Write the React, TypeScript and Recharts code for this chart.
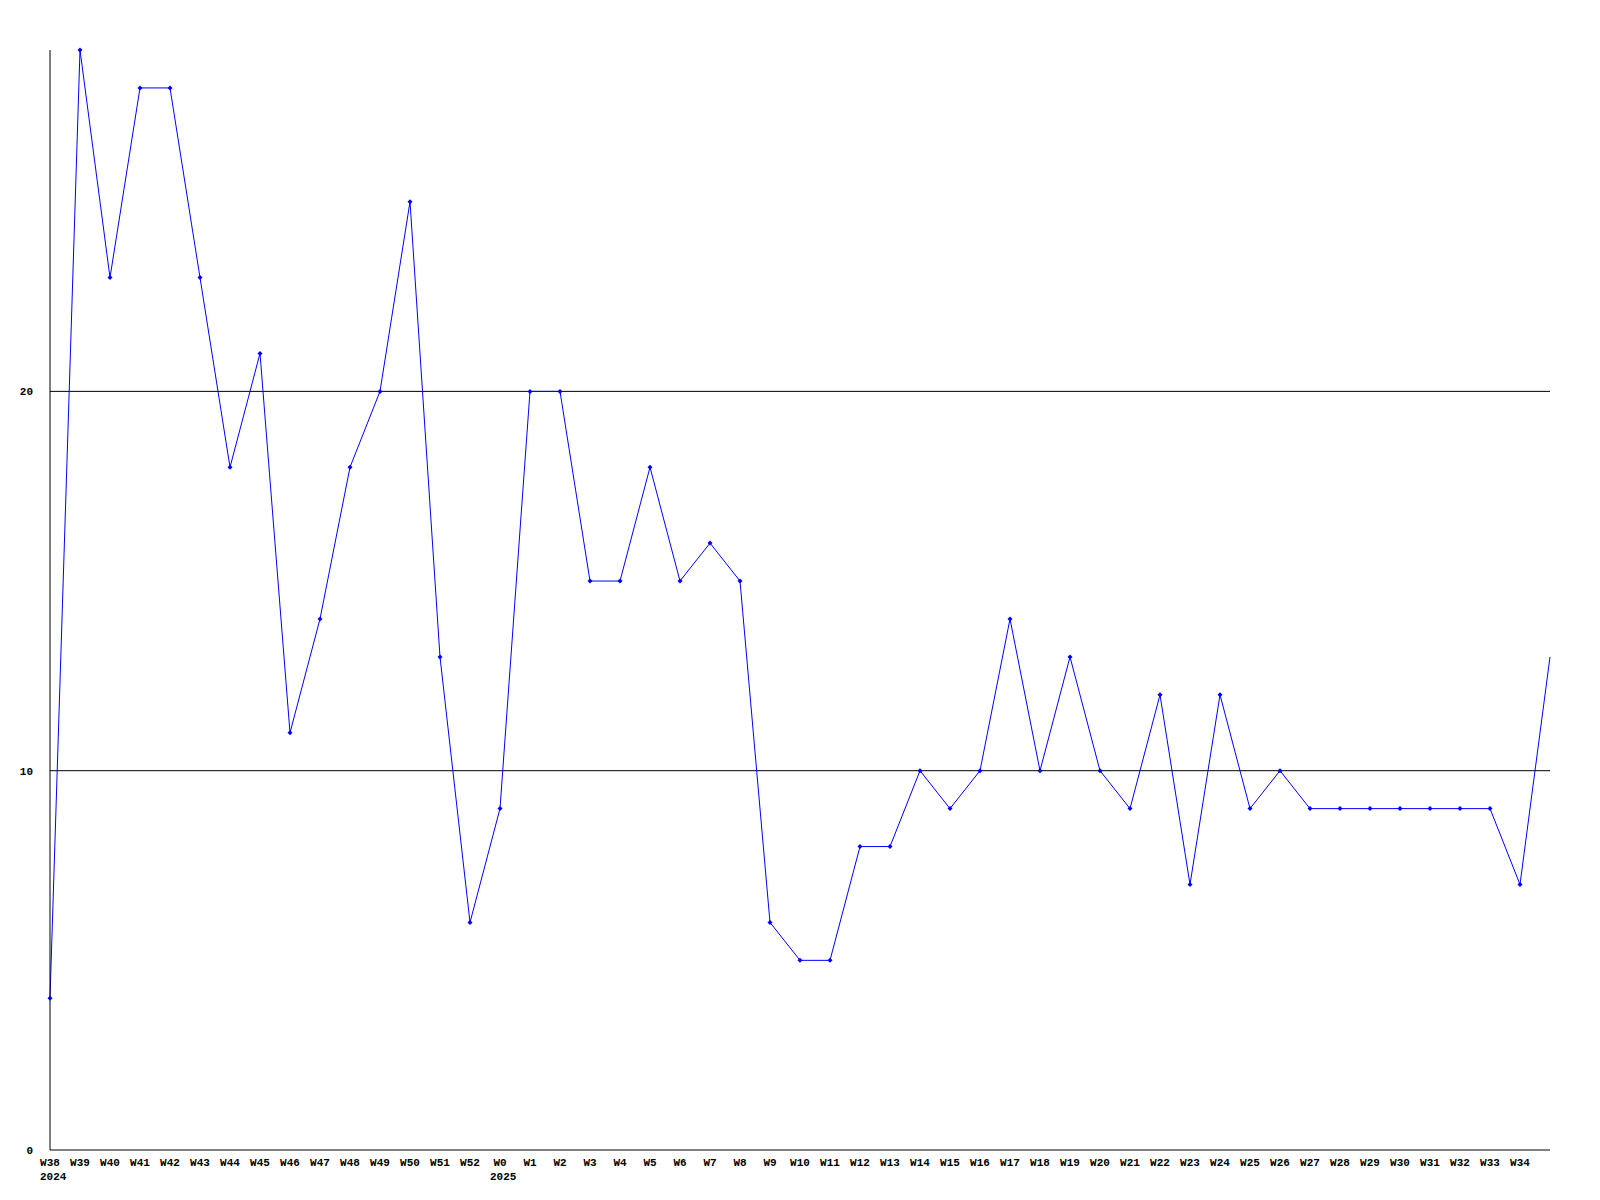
import { LineChart, Line, XAxis, YAxis, ReferenceLine } from "recharts";

// weekly counts, W38 2024 .. current (partial) week
const weeks = [
  "W38", "W39", "W40", "W41", "W42", "W43", "W44", "W45", "W46", "W47",
  "W48", "W49", "W50", "W51", "W52", "W0", "W1", "W2", "W3", "W4",
  "W5", "W6", "W7", "W8", "W9", "W10", "W11", "W12", "W13", "W14",
  "W15", "W16", "W17", "W18", "W19", "W20", "W21", "W22", "W23", "W24",
  "W25", "W26", "W27", "W28", "W29", "W30", "W31", "W32", "W33", "W34",
  "",
];
const years: Record<string, string> = { W38: "2024", W0: "2025" };
const counts = [
  4, 29, 23, 28, 28, 23, 18, 21, 11, 14,
  18, 20, 25, 13, 6, 9, 20, 20, 15, 15,
  18, 15, 16, 15, 6, 5, 5, 8, 8, 10,
  9, 10, 14, 10, 13, 10, 9, 12, 7, 12,
  9, 10, 9, 9, 9, 9, 9, 9, 9, 7,
  13,
];
const yTicks = [0, 10, 20];

const data = weeks.map((w, i) => ({ week: w, count: counts[i] }));

const FONT = "'Liberation Mono', 'DejaVu Sans Mono', monospace";
const BLUE = "#0000ff";

function WeekTick({ x, y, payload }: any) {
  const label = payload.value as string;
  const year = years[label];
  return (
    <g>
      <text x={x} y={y + 16} textAnchor="middle" fontFamily={FONT} fontWeight="bold" fontSize={11} fill="#000">
        {label}
      </text>
      {year && (
        <text x={x - 10} y={y + 30} textAnchor="start" fontFamily={FONT} fontWeight="bold" fontSize={11} fill="#000">
          {year}
        </text>
      )}
    </g>
  );
}

function CountTick({ x, y, payload }: any) {
  return (
    <text x={x - 17} y={y + 4} textAnchor="end" fontFamily={FONT} fontWeight="bold" fontSize={11} fill="#000">
      {payload.value}
    </text>
  );
}

function Marker({ cx, cy, index }: any) {
  // last week is still running, no marker on it
  if (index === counts.length - 1 || cx == null) return <g key={index} />;
  return (
    <path
      key={index}
      d={`M${cx - 2.5},${cy} L${cx},${cy - 2.5} L${cx + 2.5},${cy} L${cx},${cy + 2.5} Z`}
      fill={BLUE}
    />
  );
}

export default function App() {
  return (
    <div style={{ position: "absolute", left: 0, top: 0, background: "#fff" }}>
      <LineChart width={1600} height={1200} data={data} margin={{ top: 50, right: 50, left: 0, bottom: 0 }}>
        <XAxis
          dataKey="week"
          interval={0}
          height={50}
          tickSize={0}
          tickMargin={0}
          tickLine={false}
          axisLine={{ stroke: "#000" }}
          tick={<WeekTick />}
        />
        <YAxis
          width={50}
          domain={[0, 29]}
          ticks={yTicks}
          tickSize={0}
          tickMargin={0}
          tickLine={false}
          axisLine={{ stroke: "#000" }}
          tick={<CountTick />}
        />
        {yTicks.filter((t) => t > 0).map((t) => (
          <ReferenceLine key={t} y={t} stroke="#000" />
        ))}
        <Line
          type="linear"
          dataKey="count"
          stroke={BLUE}
          strokeWidth={1}
          dot={<Marker />}
          activeDot={false}
          isAnimationActive={false}
        />
      </LineChart>
    </div>
  );
}
